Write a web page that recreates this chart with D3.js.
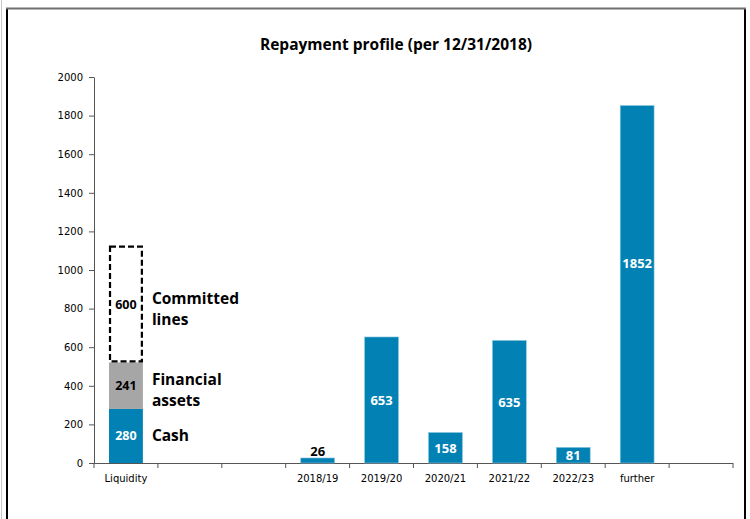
<!DOCTYPE html>
<html>
<head>
<meta charset="utf-8">
<script src="https://cdn.jsdelivr.net/npm/d3@7"></script>
<style>
  html, body { margin: 0; padding: 0; background: #fff; }
  svg { display: block; }
</style>
</head>
<body>
<svg id="chart" width="750" height="519"></svg>
<script>
// Category slots along the x axis (blank slots are spacers)
const categories = ["Liquidity", "gap1", "gap2", "2018/19", "2019/20", "2020/21", "2021/22", "2022/23", "further", "gap3"];
const categoryLabels = ["Liquidity", "", "", "2018/19", "2019/20", "2020/21", "2021/22", "2022/23", "further", ""];

// Maturities per period
const maturityPeriods = ["2018/19", "2019/20", "2020/21", "2021/22", "2022/23", "further"];
const maturityValues = [26, 653, 158, 635, 81, 1852];

// Liquidity stack
const liquidityParts = ["Cash", "Financial assets", "Committed lines"];
const liquidityValues = [280, 241, 600];
const liquidityNames = [["Cash"], ["Financial", "assets"], ["Committed", "lines"]];

const yTicks = [0, 200, 400, 600, 800, 1000, 1200, 1400, 1600, 1800, 2000];
const titleText = "Repayment profile (per 12/31/2018)";

const BLUE = "#0282b4";
const GREY = "#a6a6a6";
const BOLD_FONT = "'Open Sans', sans-serif";
const TICK_FONT = "'DejaVu Sans', sans-serif";

const svg = d3.select("#chart");

// Outer frame
svg.append("line").attr("x1", 1.5).attr("x2", 1.5).attr("y1", 0).attr("y2", 519)
  .attr("stroke", "#c8c8c8").attr("stroke-width", 1);
svg.append("line").attr("x1", 7).attr("x2", 7).attr("y1", 8).attr("y2", 519)
  .attr("stroke", "#000").attr("stroke-width", 2);
svg.append("line").attr("x1", 745).attr("x2", 745).attr("y1", 8).attr("y2", 519)
  .attr("stroke", "#000").attr("stroke-width", 2);
svg.append("line").attr("x1", 6).attr("x2", 746).attr("y1", 8.5).attr("y2", 8.5)
  .attr("stroke", "#707070").attr("stroke-width", 2);

const x = d3.scaleBand().domain(categories).range([94, 733]).paddingInner(0.47).paddingOuter(0.235);
const y = d3.scaleLinear().domain([0, 2000]).range([463, 77]);

// Title
svg.append("text").attr("x", 396).attr("y", 50).attr("text-anchor", "middle")
  .attr("font-family", BOLD_FONT).attr("font-weight", "bold").attr("font-size", 15.5)
  .attr("fill", "#000").text(titleText);

// Y axis
const yAxis = d3.axisLeft(y).tickValues(yTicks).tickFormat(d3.format("d"))
  .tickSize(5).tickSizeOuter(0).tickPadding(6);
const gy = svg.append("g").attr("transform", "translate(94,0)").call(yAxis);
gy.select(".domain").attr("stroke", "#555");
gy.selectAll(".tick line").attr("stroke", "#555");
gy.selectAll(".tick text").attr("font-family", TICK_FONT).attr("font-size", 10).attr("fill", "#000");

// X axis: ticks at slot boundaries
const step = x.step();
const x0 = 94;
const boundaries = d3.range(categories.length + 1).map(i => x0 + i * step);
const gx = svg.append("g");
gx.append("line").attr("x1", 94).attr("x2", 733).attr("y1", 463.5).attr("y2", 463.5)
  .attr("stroke", "#555");
gx.selectAll("line.tk").data(boundaries).join("line").attr("class", "tk")
  .attr("x1", d => d).attr("x2", d => d).attr("y1", 463).attr("y2", 468)
  .attr("stroke", "#555");
gx.selectAll("text").data(categories).join("text")
  .attr("x", d => x(d) + x.bandwidth() / 2).attr("y", 482)
  .attr("text-anchor", "middle").attr("font-family", TICK_FONT).attr("font-size", 10)
  .attr("fill", "#000").text((d, i) => categoryLabels[i]);

// Liquidity stack
const stack = [];
let acc = 0;
liquidityValues.forEach((v, i) => { stack.push({ name: liquidityParts[i], v, y0: acc, y1: acc + v, i }); acc += v; });
const lx = x("Liquidity"), lw = x.bandwidth();
stack.forEach(s => {
  if (s.i < 2) {
    svg.append("rect").attr("x", lx).attr("y", y(s.y1)).attr("width", lw)
      .attr("height", y(s.y0) - y(s.y1))
      .attr("fill", s.i === 0 ? BLUE : GREY);
  } else {
    svg.append("rect").attr("x", lx + 1).attr("y", y(s.y1)).attr("width", lw - 2)
      .attr("height", y(s.y0) - y(s.y1) - 1)
      .attr("fill", "none").attr("stroke", "#000").attr("stroke-width", 2.2)
      .attr("stroke-dasharray", "6,3");
  }
  const cy = y((s.y0 + s.y1) / 2);
  svg.append("text").attr("x", lx + lw / 2).attr("y", cy + 4.5).attr("text-anchor", "middle")
    .attr("font-family", BOLD_FONT).attr("font-weight", "bold").attr("font-size", 12.5)
    .attr("fill", s.i === 0 ? "#fff" : "#000").text(s.v);
  const names = liquidityNames[s.i];
  const lineH = 21;
  const startY = names.length > 1 ? cy - 1 : cy + 5.5;
  names.forEach((n, k) => {
    svg.append("text").attr("x", lx + lw + 9).attr("y", startY + k * lineH)
      .attr("font-family", BOLD_FONT).attr("font-weight", "bold").attr("font-size", 15.5)
      .attr("fill", "#000").text(n);
  });
});

// Maturity bars
maturityPeriods.forEach((p, i) => {
  const v = maturityValues[i];
  svg.append("rect").attr("x", x(p)).attr("y", y(v)).attr("width", x.bandwidth())
    .attr("height", y(0) - y(v)).attr("fill", BLUE)
    .attr("stroke", "#8cc6df").attr("stroke-width", 0.6);
  let ly, col = "#fff";
  if (v < 50) { ly = y(v) - 2; col = "#000"; }
  else if (v > 1500) { ly = y(v * 0.56) + 5; }
  else { ly = y(v / 2) + 5; }
  svg.append("text").attr("x", x(p) + x.bandwidth() / 2).attr("y", ly)
    .attr("text-anchor", "middle").attr("font-family", BOLD_FONT).attr("font-weight", "bold")
    .attr("font-size", 13).attr("fill", col).text(v);
});
</script>
</body>
</html>
